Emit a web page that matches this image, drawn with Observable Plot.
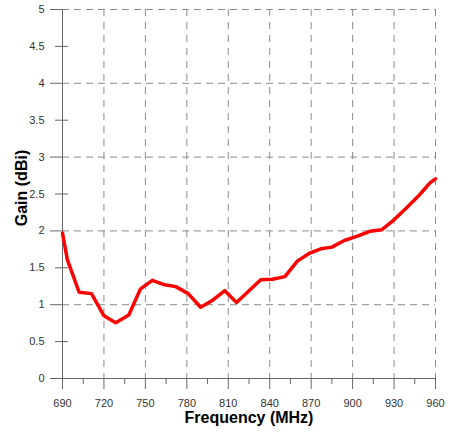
<!DOCTYPE html>
<html>
<head>
<meta charset="utf-8">
<script src="https://cdn.jsdelivr.net/npm/d3@7"></script>
<script src="https://cdn.jsdelivr.net/npm/@observablehq/plot@0.6"></script>
<style>
  html, body { margin: 0; padding: 0; background: #fff; }
</style>
</head>
<body>
<div id="chart"></div>
<script>
const freq = [690, 693.5, 702, 711, 720, 728.5, 738, 746.5, 755, 764, 772, 781, 790, 799, 807.5, 816, 833.5, 842, 851, 860, 869, 877, 885, 894, 903, 912.5, 921, 930, 939.5, 948, 956, 960];
const gain = [1.97, 1.61, 1.17, 1.15, 0.85, 0.755, 0.86, 1.215, 1.33, 1.27, 1.245, 1.15, 0.965, 1.065, 1.19, 1.03, 1.337, 1.345, 1.38, 1.59, 1.70, 1.757, 1.78, 1.87, 1.925, 1.995, 2.015, 2.15, 2.32, 2.48, 2.65, 2.705];
const xMajor = [690, 720, 750, 780, 810, 840, 870, 900, 930, 960];
const xMinor = [705, 735, 765, 795, 825, 855, 885, 915, 945];
const yMajor = [0, 1, 2, 3, 4, 5];
const yMinor = [0.5, 1.5, 2.5, 3.5, 4.5];
const yLabels = [0, 0.5, 1, 1.5, 2, 2.5, 3, 3.5, 4, 4.5, 5];
const xTitle = "Frequency (MHz)";
const yTitle = "Gain (dBi)";

const data = freq.map((f, i) => ({freq: f, gain: gain[i]}));
const font = "'Liberation Sans', Arial, sans-serif";

const chart = Plot.plot({
  width: 457,
  height: 432,
  marginLeft: 62,
  marginRight: 22,
  marginTop: 9,
  marginBottom: 54,
  style: {fontFamily: font, background: "#fff", overflow: "visible"},
  x: {domain: [690, 960]},
  y: {domain: [0, 5]},
  marks: [
    Plot.ruleY(yMajor.filter(d => d > 0), {stroke: "#8c8c8c", strokeDasharray: "7,5", strokeWidth: 1}),
    Plot.ruleX(xMajor.filter(d => d > 690), {stroke: "#8c8c8c", strokeDasharray: "7,6", strokeWidth: 1}),
    Plot.axisY({ticks: yMajor, tickSize: 12, stroke: "#666", fill: "none", tickFormat: () => "", label: null}),
    Plot.axisY({ticks: yMinor, tickSize: 13, dx: 6, stroke: "#666", fill: "none", tickFormat: () => "", label: null}),
    Plot.axisY({ticks: yLabels, tickSize: 0, tickPadding: 18, fontSize: 11, fill: "#333", tickFormat: d => String(d), label: null}),
    Plot.axisX({ticks: xMajor, tickSize: 11, tickPadding: 10, fontSize: 11, fill: "#333", stroke: "#666", tickFormat: d => String(d), label: null}),
    Plot.axisX({ticks: xMinor, tickSize: 6, stroke: "#666", fill: "none", tickFormat: () => "", label: null}),
    Plot.ruleX([690], {stroke: "#666", strokeWidth: 1}),
    Plot.ruleY([0], {stroke: "#666", strokeWidth: 1}),
    Plot.line(data, {x: "freq", y: "gain", stroke: "#ff0000", strokeWidth: 3.5, strokeLinejoin: "round", strokeLinecap: "round"}),
    Plot.text([xTitle], {frameAnchor: "bottom", dy: 39, fontWeight: "bold", fontSize: 16, fill: "#000", lineAnchor: "middle", textAnchor: "middle"}),
    Plot.text([yTitle], {frameAnchor: "left", dx: -41, dy: -6, rotate: -90, fontWeight: "bold", fontSize: 16, fill: "#000", lineAnchor: "middle", textAnchor: "middle"})
  ]
});
document.getElementById("chart").appendChild(chart);
</script>
</body>
</html>
